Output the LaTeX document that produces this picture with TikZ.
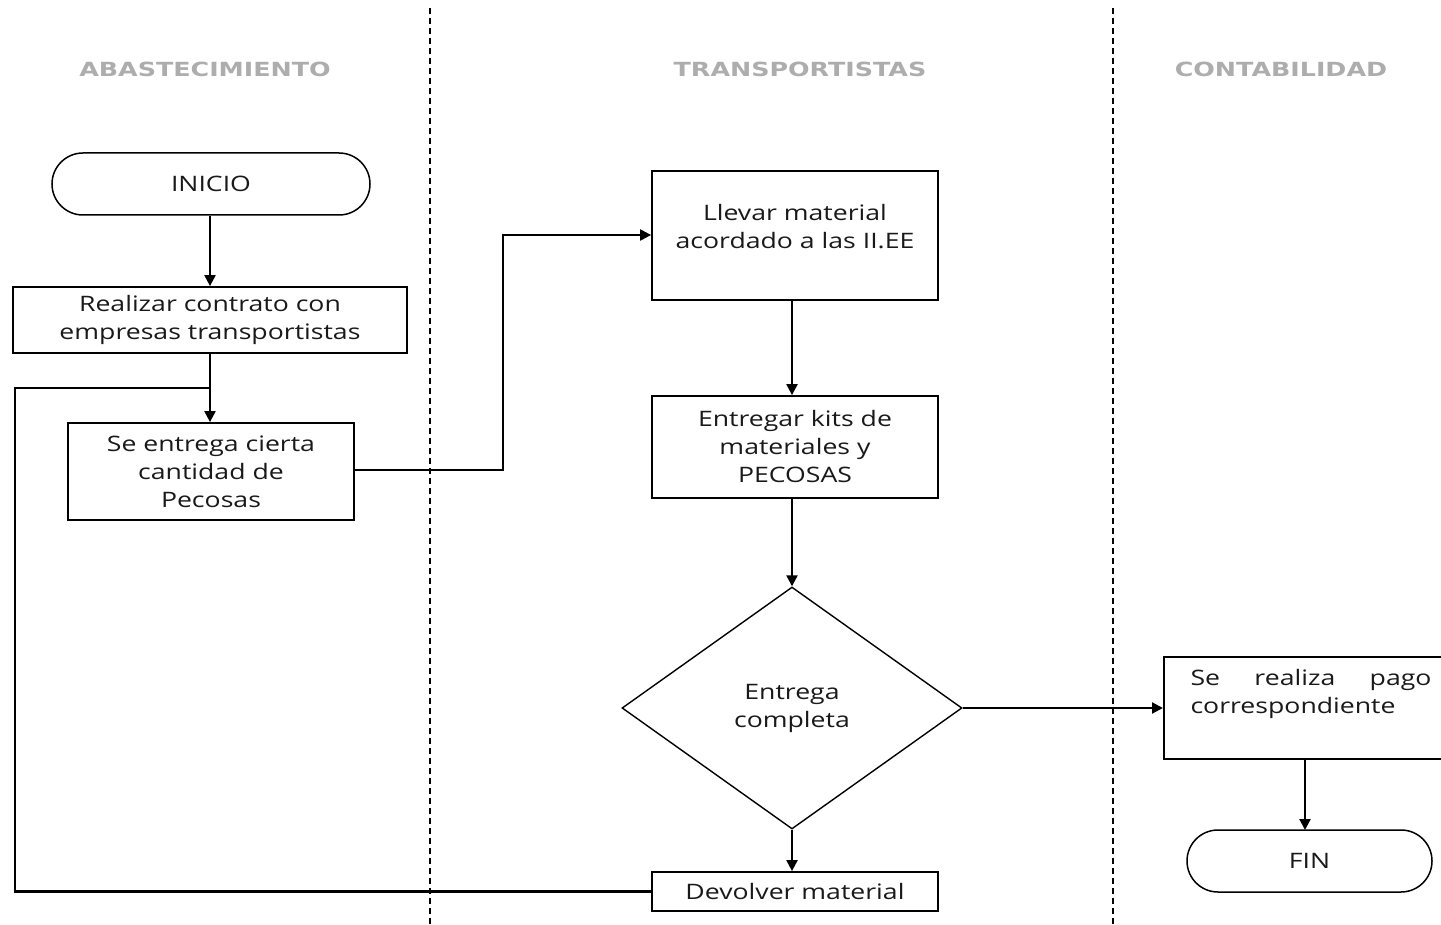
\documentclass[tikz,border=0pt]{standalone}
\usepackage{fontspec}
\setmainfont[FakeStretch=1.25]{Open Sans}
\newfontfamily\headfont[FakeStretch=1.3]{DejaVu Sans}
\usetikzlibrary{arrows.meta,shapes.geometric}
\begin{document}
\begin{tikzpicture}[x=1pt,y=-1pt,
  box/.style={draw, line width=1.8pt, inner sep=0pt, rectangle},
  term/.style={draw, line width=1.5pt, inner sep=0pt, rectangle, rounded corners=31pt},
  txt/.style={font=\fontsize{21.3}{28}\selectfont, align=center, text=black!90},
  flow/.style={line width=2.2pt, -{Triangle[length=11pt,width=11pt]}},
  link/.style={line width=2.2pt},
  lane/.style={line width=1.7pt, dash pattern=on 6pt off 4pt},
  head/.style={font=\headfont\bfseries\fontsize{19.5}{22}\selectfont, text=black!32}]
\useasboundingbox (0,0) rectangle (1441,925);
\clip (0,0) rectangle (1441,925);
\fill[white] (0,0) rectangle (1441,925);

% swimlane separators
\coordinate (laneA1) at (430,8);
\coordinate (laneA2) at (430,925);
\coordinate (laneB1) at (1113,8);
\coordinate (laneB2) at (1113,925);
\draw[lane] (laneA1) -- (laneA2);
\draw[lane] (laneB1) -- (laneB2);

% lane titles
\node[head] (hA) at (205,69) {ABASTECIMIENTO};
\node[head] (hT) at (800,69) {TRANSPORTISTAS};
\node[head] (hC) at (1281,69) {CONTABILIDAD};

% abastecimiento
\node[term, minimum width=318pt, minimum height=62pt, txt] (inicio) at (211,184) {INICIO};
\node[box, minimum width=394pt, minimum height=66pt, txt] (contrato) at (210,320)
  {Realizar contrato con\\empresas transportistas};
\node[box, minimum width=286pt, minimum height=97pt, txt] (pecosas) at (211,471.5)
  {Se entrega cierta\\cantidad de\\Pecosas};

% transportistas
\node[box, minimum width=286pt, minimum height=129pt] (llevar) at (795,235.5) {};
\node[txt] (llevarT) at (795,227) {Llevar material\\acordado a las II.EE};
\node[box, minimum width=286pt, minimum height=102pt, txt] (kits) at (795,447)
  {Entregar kits de\\materiales y\\PECOSAS};
\node[draw, line width=1.4pt, diamond, inner sep=0pt, minimum width=340pt,
  minimum height=242pt, txt] (check) at (792,708) {Entrega\\completa};
\node[box, minimum width=286pt, minimum height=39pt, txt] (devolver) at (795,891.5)
  {Devolver material};

% contabilidad
\node[box, minimum width=300pt, minimum height=102pt, anchor=west] (pago) at (1163,708) {};
\node[txt, align=justify, text width=241pt, anchor=north west] (pagoT) at (1187,666)
  {Se realiza pago\linebreak correspondiente};
\node[term, minimum width=245pt, minimum height=62pt, txt] (fin) at (1309.5,861) {FIN};

% connectors
\coordinate (j1) at (210,388);
\coordinate (loopB) at (15,893);
\coordinate (loopT) at (15,388);
\coordinate (r1) at (503,470);
\coordinate (r2) at (503,235);
\coordinate (c1) at (792,0);
\coordinate (p1) at (1305,759);
\coordinate (p2) at (1305,830);

\draw[flow] (inicio.south -| contrato.north) -- (contrato.north);
\draw[flow] (contrato.south) -- (contrato.south |- pecosas.north);
\draw[link] (devolver.west) -- (devolver.west -| loopB) -- (loopT) -- (j1);
\draw[flow] (pecosas.east |- r1) -- (r1) -- (r2) -- (llevar.west |- r2);
\draw[flow] (llevar.south -| c1) -- (kits.north -| c1);
\draw[flow] (kits.south -| c1) -- (check.north);
\draw[flow] (check.south) -- (devolver.north -| check.south);
\draw[flow] (check.east) -- (pago.west |- check.east);
\draw[flow] (p1) -- (p2);
\end{tikzpicture}
\end{document}
